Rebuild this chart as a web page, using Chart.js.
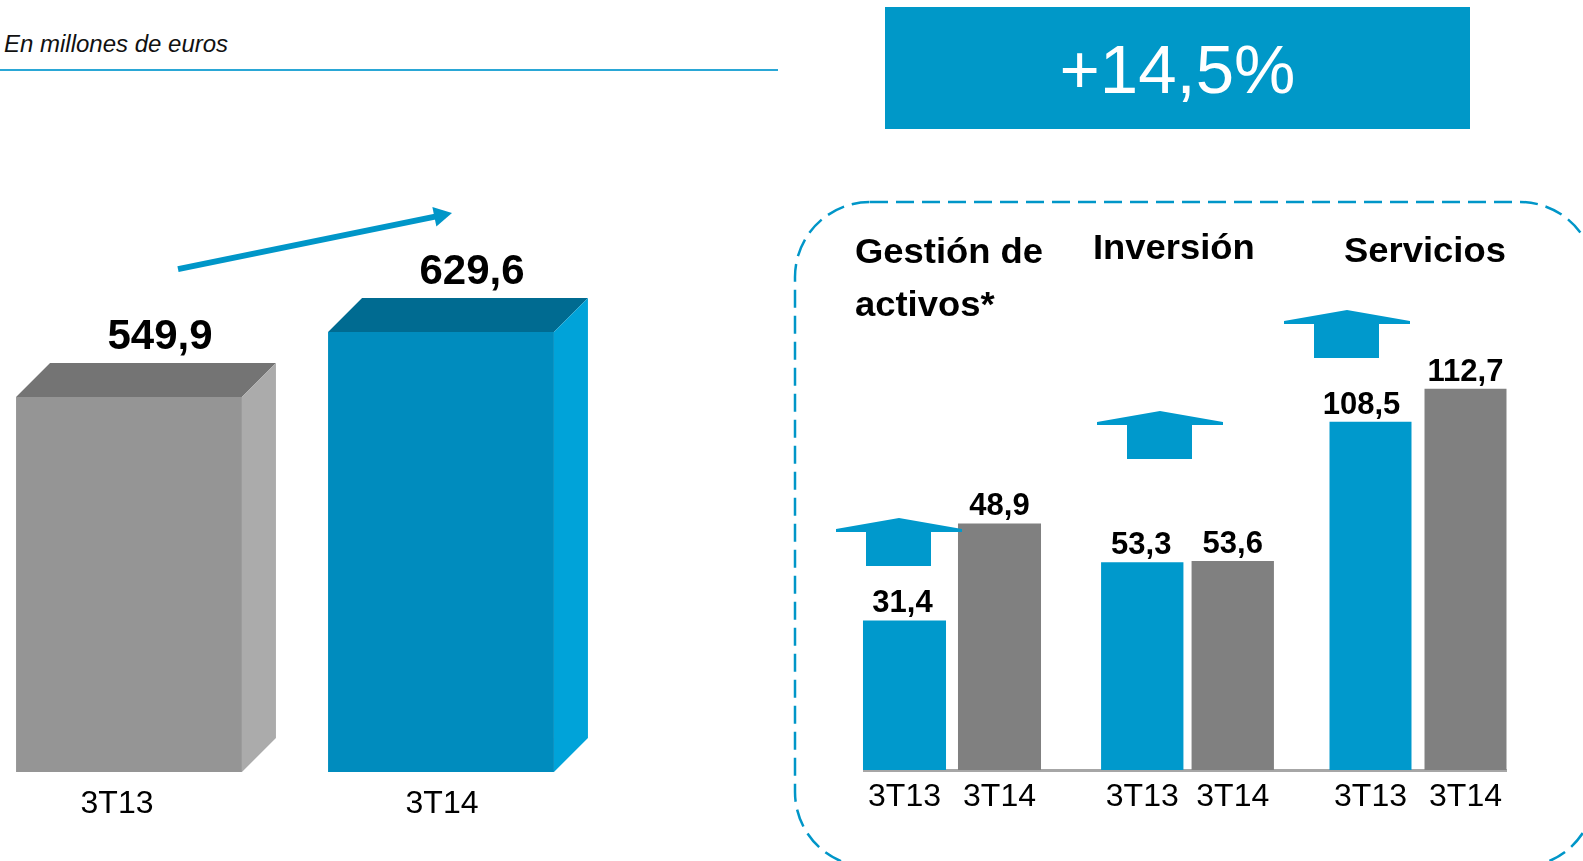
<!DOCTYPE html>
<html>
<head>
<meta charset="utf-8">
<script src="https://cdn.jsdelivr.net/npm/chart.js@4.4.1/dist/chart.umd.min.js"></script>
<style>
  html, body { margin: 0; padding: 0; background: #fff; }
  body { width: 1583px; height: 861px; position: relative; overflow: hidden; font-family: "Liberation Sans", Arial, sans-serif; }
  .abs { position: absolute; }
  #unit { left: 4px; top: 30px; font-style: italic; font-size: 24px; line-height: 28px; color: #111; white-space: nowrap; }
  #rule { left: 0; top: 69px; width: 778px; height: 2px; background: #2aa7d6; }
  #growth { left: 885px; top: 7px; width: 585px; height: 122px; overflow: hidden; background: #0098c8; color: #fff; font-size: 69px; line-height: 126px; text-align: center; }
  #base { left: 863px; top: 769px; width: 644px; height: 3px; background: #a6a6a6; }
</style>
</head>
<body>
<div id="unit" class="abs">En millones de euros</div>
<div id="rule" class="abs"></div>
<div id="growth" class="abs"></div>
<svg class="abs" style="left:0;top:0" width="1583" height="861">
  <rect x="795" y="202" width="800" height="665" rx="75" ry="75" fill="none" stroke="#0096c8" stroke-width="2.5" stroke-dasharray="18 8"/>
</svg>
<div id="base" class="abs"></div>
<canvas id="totalChart" class="abs" width="624" height="700" style="left:-27px;top:150px"></canvas>

<script>
// data
const totalLabels = ['3T13', '3T14'];
const totalValues = [549.9, 629.6];
const growthText = '+14,5%';

const periodLabels = ['3T13', '3T14'];
const gestionValues = [31.4, 48.9];
const inversionValues = [53.3, 53.6];
const serviciosValues = [108.5, 112.7];
const groupTitles = [['Gestión de', 'activos*'], ['Inversión'], ['Servicios']];
const groupValues = [gestionValues, inversionValues, serviciosValues];

const FONT = '"Liberation Sans", Arial, sans-serif';
const fmt = v => v.toFixed(1).replace('.', ',');

document.getElementById('growth').textContent = growthText;

// 3d boxes, labels and trend arrow for the total chart
const box3d = {
  id: 'box3d',
  afterDatasetsDraw(chart, args, opts) {
    const { ctx } = chart;
    const bars = chart.getDatasetMeta(0).data;
    const d = opts.depth;
    ctx.save();
    bars.forEach((bar, i) => {
      const { x, y, base, width } = bar.getProps(['x', 'y', 'base', 'width'], true);
      const l = x - width / 2, r = x + width / 2;
      ctx.fillStyle = opts.top[i];
      ctx.beginPath();
      ctx.moveTo(l, y); ctx.lineTo(l + d, y - d); ctx.lineTo(r + d, y - d); ctx.lineTo(r, y);
      ctx.closePath(); ctx.fill();
      ctx.fillStyle = opts.side[i];
      ctx.beginPath();
      ctx.moveTo(r, y); ctx.lineTo(r + d, y - d); ctx.lineTo(r + d, base - d); ctx.lineTo(r, base);
      ctx.closePath(); ctx.fill();

      ctx.fillStyle = '#000';
      ctx.textAlign = 'center';
      ctx.font = 'bold 42px ' + FONT;
      ctx.fillText(fmt(chart.data.datasets[0].data[i]), x + 31, y - 48);
      ctx.font = '32px ' + FONT;
      ctx.fillText(chart.data.labels[i], x + opts.labelDx[i], base + 41);
    });

    // trend arrow between the two totals
    const a = bars[0], b = bars[1];
    const x0 = a.x + 49, y0 = a.y - 128, x1 = b.x + 11, y1 = b.y - 119;
    const ang = Math.atan2(y1 - y0, x1 - x0);
    const hl = 18, hw = 10;
    const bx = x1 - hl * Math.cos(ang), by = y1 - hl * Math.sin(ang);
    ctx.strokeStyle = '#0096c8';
    ctx.fillStyle = '#0096c8';
    ctx.lineWidth = 6;
    ctx.beginPath(); ctx.moveTo(x0, y0); ctx.lineTo(bx + 2 * Math.cos(ang), by + 2 * Math.sin(ang)); ctx.stroke();
    ctx.beginPath();
    ctx.moveTo(x1, y1);
    ctx.lineTo(bx + hw * Math.sin(ang), by - hw * Math.cos(ang));
    ctx.lineTo(bx - hw * Math.sin(ang), by + hw * Math.cos(ang));
    ctx.closePath(); ctx.fill();
    ctx.restore();
  }
};

const totalMin = 90;
new Chart(document.getElementById('totalChart'), {
  type: 'bar',
  data: {
    labels: totalLabels,
    datasets: [{
      data: totalValues,
      base: totalMin,
      backgroundColor: ['#959595', '#008cbe'],
      barPercentage: 0.724,
      categoryPercentage: 1
    }]
  },
  options: {
    responsive: false,
    animation: false,
    events: [],
    devicePixelRatio: 1,
    layout: { padding: { left: 0, right: 0, top: 0, bottom: 78 } },
    plugins: {
      legend: { display: false },
      tooltip: { enabled: false },
      box3d: { depth: 34, top: ['#747474', '#006b91'], side: ['#ababab', '#00a3d9'], labelDx: [-12, 1] }
    },
    scales: {
      x: { display: false },
      y: { display: false, beginAtZero: false, min: totalMin, max: 853 }
    }
  },
  plugins: [box3d]
});

// segment charts: each group has its own scale in the original
const groupLayout = [
  { left: 857, width: 190, bar: 0.874, min: 4.4, max: 107.3, arrow: [899, 518], valueDx: [-2, 0], titleX: 855, titleY: [263, 316] },
  { left: 1097, width: 181, bar: 0.91, min: 0, max: 146.2, arrow: [1160, 411], valueDx: [-1, 0], titleX: 1093, titleY: [259] },
  { left: 1323, width: 190, bar: 0.863, min: 64.2, max: 136.7, arrow: [1347, 310], valueDx: [-9, 0], titleX: 1344, titleY: [262] }
];
const TOP = 200, AREA_H = 570, PAD = 40, BOTTOM_PAD = 70;

function upArrow(ctx, cx, ay) {
  ctx.beginPath();
  ctx.moveTo(cx - 63, ay + 11);
  ctx.lineTo(cx, ay);
  ctx.lineTo(cx + 63, ay + 11);
  ctx.lineTo(cx + 63, ay + 14);
  ctx.lineTo(cx + 32, ay + 14);
  ctx.lineTo(cx + 32, ay + 48);
  ctx.lineTo(cx - 33, ay + 48);
  ctx.lineTo(cx - 33, ay + 14);
  ctx.lineTo(cx - 63, ay + 14);
  ctx.closePath();
  ctx.fill();
}

const groupDecor = {
  id: 'groupDecor',
  afterDatasetsDraw(chart, args, o) {
    const { ctx } = chart;
    const ox = o.canvasLeft, oy = o.canvasTop;
    ctx.save();
    ctx.fillStyle = '#0099cc';
    upArrow(ctx, o.arrow[0] - ox, o.arrow[1] - oy);

    ctx.fillStyle = '#000';
    ctx.textAlign = 'center';
    chart.getDatasetMeta(0).data.forEach((bar, i) => {
      ctx.font = 'bold 31px ' + FONT;
      ctx.fillText(fmt(chart.data.datasets[0].data[i]), bar.x + o.valueDx[i], bar.y - 8);
      ctx.font = '32px ' + FONT;
      ctx.fillText(chart.data.labels[i], bar.x, bar.base + 36);
    });

    ctx.textAlign = 'left';
    ctx.font = 'bold 35px ' + FONT;
    o.title.forEach((line, i) => {
      ctx.save();
      ctx.translate(o.titleX - ox, o.titleY[i] - oy);
      ctx.scale(1.04, 1);
      ctx.fillText(line, 0, 0);
      ctx.restore();
    });
    ctx.restore();
  }
};

groupLayout.forEach((g, gi) => {
  const canvas = document.createElement('canvas');
  canvas.className = 'abs';
  canvas.width = g.width + 2 * PAD;
  canvas.height = AREA_H + BOTTOM_PAD;
  const cl = g.left - PAD;
  canvas.style.left = cl + 'px';
  canvas.style.top = TOP + 'px';
  document.body.appendChild(canvas);

  new Chart(canvas, {
    type: 'bar',
    data: {
      labels: periodLabels,
      datasets: [{
        data: groupValues[gi],
        base: g.min,
        backgroundColor: ['#0099cc', '#808080'],
        barPercentage: g.bar,
        categoryPercentage: 1
      }]
    },
    options: {
      responsive: false,
      animation: false,
      events: [],
      devicePixelRatio: 1,
      layout: { padding: { left: PAD, right: PAD, top: 0, bottom: BOTTOM_PAD } },
      plugins: {
        legend: { display: false },
        tooltip: { enabled: false },
        groupDecor: {
          canvasLeft: cl, canvasTop: TOP, valueDx: g.valueDx,
          arrow: g.arrow, title: groupTitles[gi], titleX: g.titleX, titleY: g.titleY
        }
      },
      scales: {
        x: { display: false },
        y: { display: false, beginAtZero: false, min: g.min, max: g.max }
      }
    },
    plugins: [groupDecor]
  });
});
</script>
</body>
</html>
